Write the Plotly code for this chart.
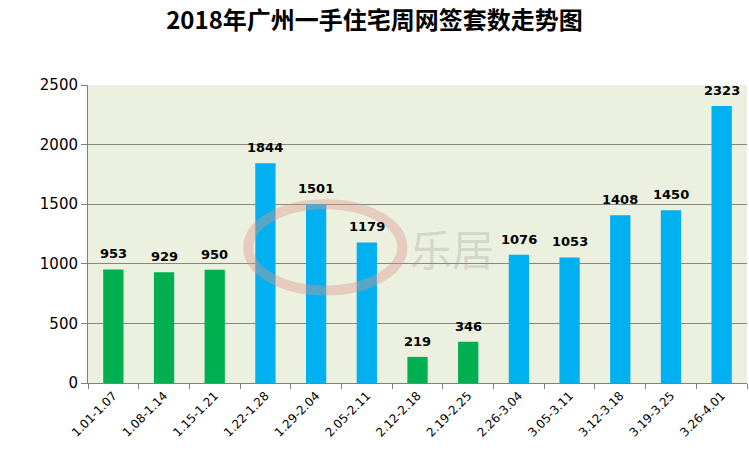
import plotly.graph_objects as go

weeks = ["1.01-1.07", "1.08-1.14", "1.15-1.21", "1.22-1.28", "1.29-2.04", "2.05-2.11",
         "2.12-2.18", "2.19-2.25", "2.26-3.04", "3.05-3.11", "3.12-3.18", "3.19-3.25", "3.26-4.01"]
values = [953, 929, 950, 1844, 1501, 1179, 219, 346, 1076, 1053, 1408, 1450, 2323]
colors = ["#00B050", "#00B050", "#00B050", "#00B0F0", "#00B0F0", "#00B0F0",
          "#00B050", "#00B050", "#00B0F0", "#00B0F0", "#00B0F0", "#00B0F0", "#00B0F0"]
y_ticks = [0, 500, 1000, 1500, 2000, 2500]
title = "2018年广州一手住宅周网签套数走势图"

fig = go.Figure(go.Bar(
    x=weeks, y=values, marker_color=colors, marker_line_width=0,
))

for w, v in zip(weeks, values):
    fig.add_annotation(x=w, y=v, text=str(v), showarrow=False, yanchor="bottom", yshift=6,
                       font=dict(family="DejaVu Sans", size=13, color="black", weight="bold"))

# watermark
fig.add_shape(type="circle", xref="paper", yref="paper",
              x0=0.243, x1=0.477, y0=0.31, y1=0.60,
              line=dict(color="rgba(220,150,140,0.4)", width=10), layer="above")
fig.add_annotation(text="乐居", xref="paper", yref="paper", x=0.552, y=0.455,
                   showarrow=False, font=dict(family="Noto Sans CJK SC", size=42, color="rgba(150,150,150,0.3)"))

fig.update_layout(
    width=749, height=454,
    margin=dict(l=88, r=2, t=85, b=71),
    paper_bgcolor="white", plot_bgcolor="#EBF0DF",
    title=dict(text=title, x=0.5, xanchor="center", y=0.955, yanchor="middle",
               font=dict(family="Noto Sans CJK SC", size=24, color="black", weight="bold")),
    bargap=0.6, showlegend=False,
    xaxis=dict(tickangle=-45, tickson="boundaries", ticks="outside", ticklen=5,
               tickcolor="#808080", showline=True, linecolor="#808080", linewidth=1,
               tickfont=dict(family="DejaVu Sans", size=12, color="black"), showgrid=False),
    yaxis=dict(range=[0, 2500], tickvals=y_ticks, ticks="outside", ticklen=6,
               tickcolor="#808080", showline=True, linecolor="#808080", linewidth=1,
               gridcolor="#868686", gridwidth=1, zeroline=False,
               tickfont=dict(family="DejaVu Sans", size=15, color="black")),
)
fig.write_html("out.html")
